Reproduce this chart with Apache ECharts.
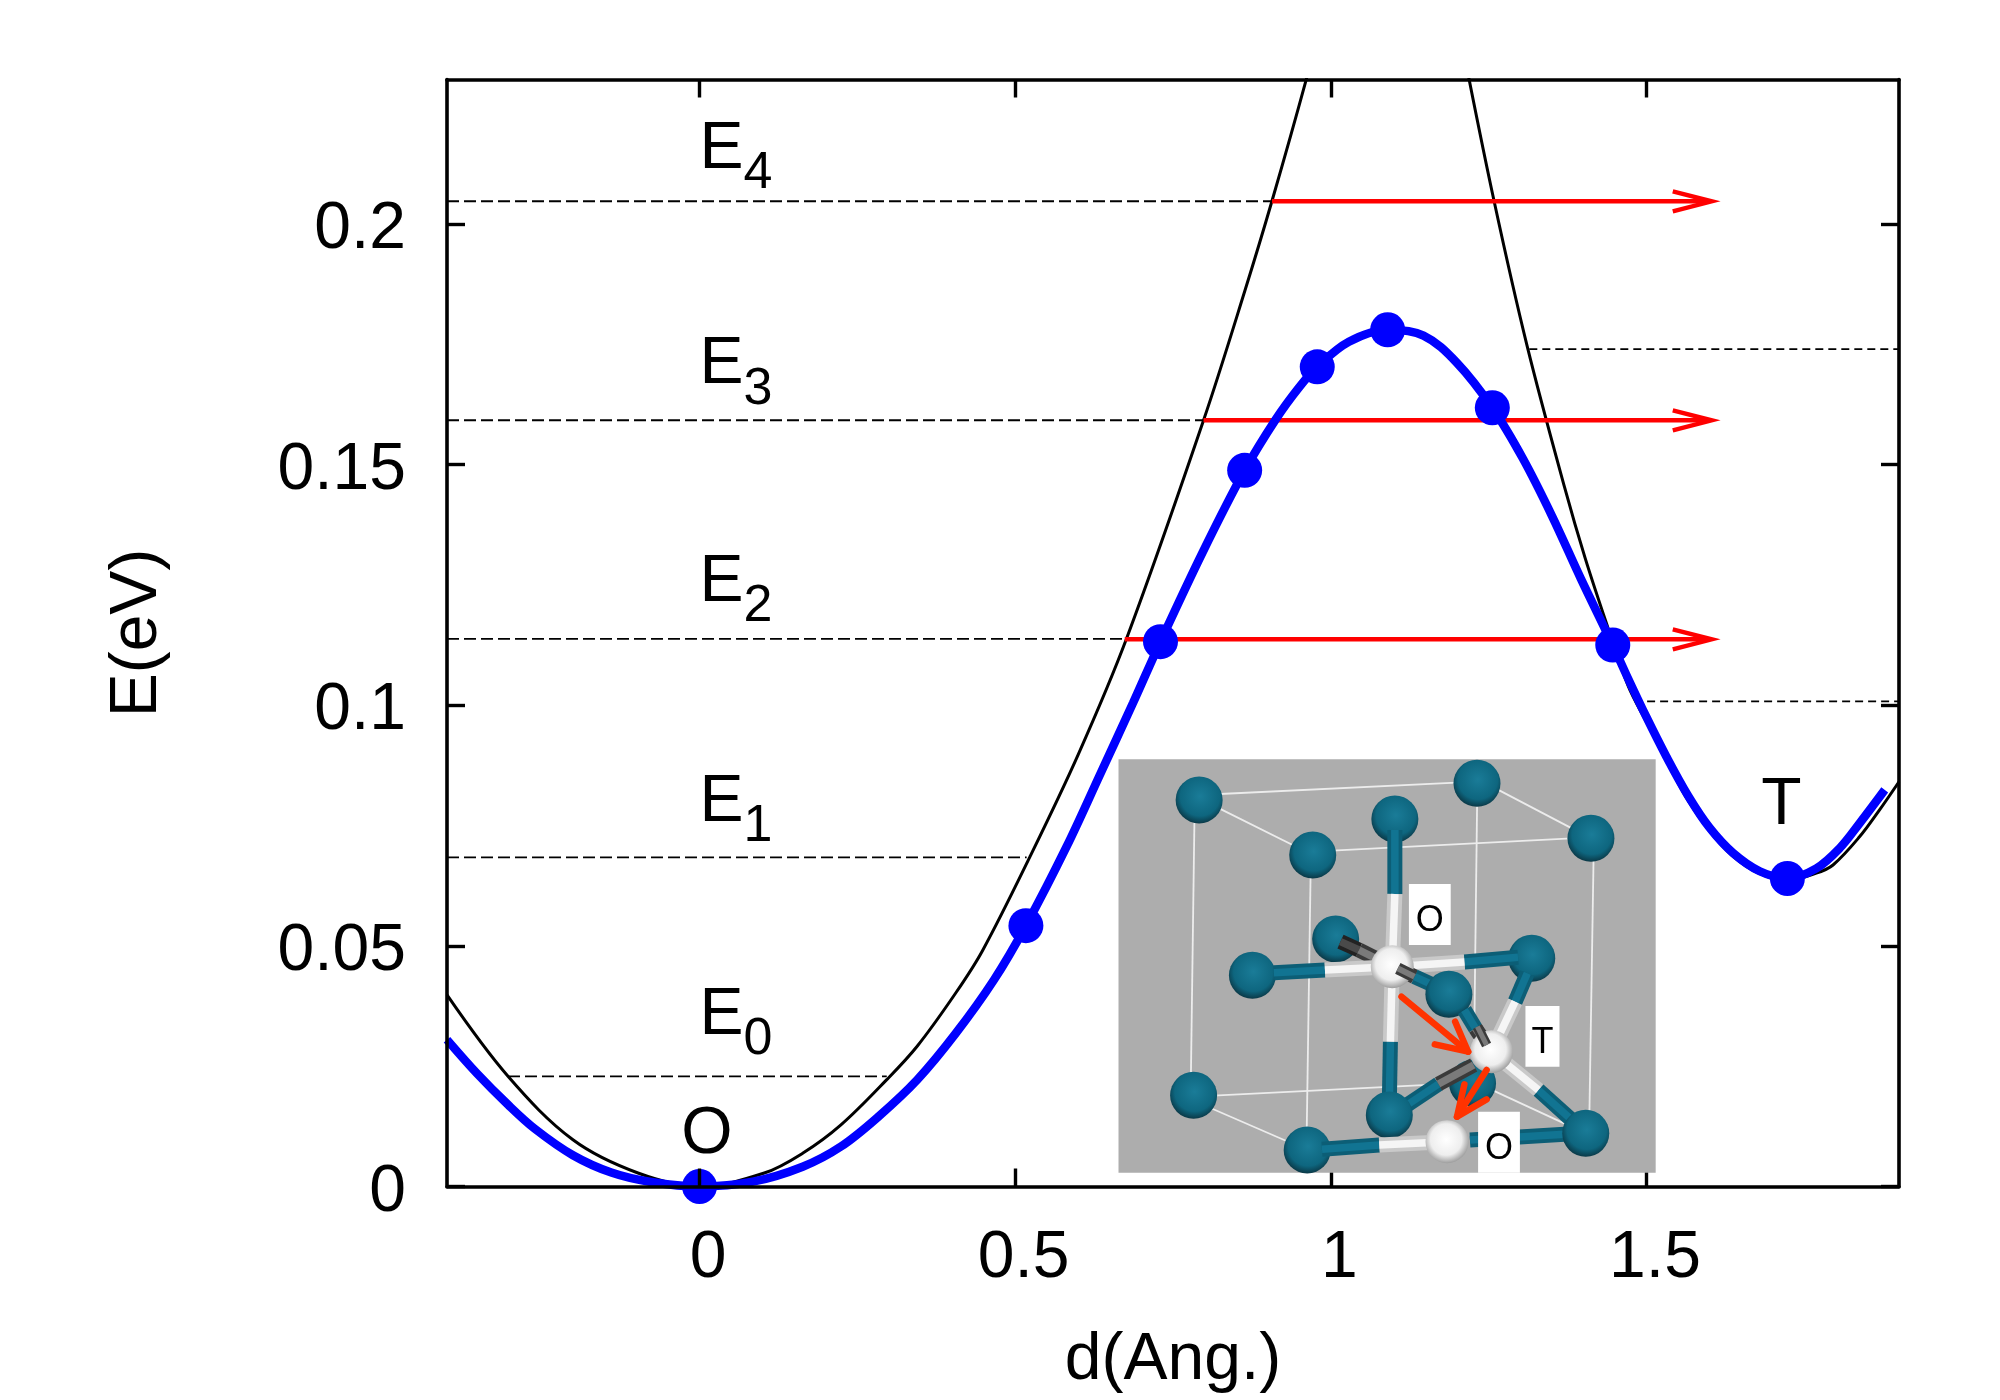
<!DOCTYPE html>
<html>
<head>
<meta charset="utf-8">
<script src="https://cdn.jsdelivr.net/npm/echarts@6/dist/echarts.min.js"></script>
<style>
html,body{margin:0;padding:0;background:#fff;}
#main{width:2000px;height:1400px;}
</style>
</head>
<body>
<div id="main"></div>
<script>
var xTicks = [0, 0.5, 1, 1.5];
var yTicks = [0, 0.05, 0.1, 0.15, 0.2];

var blueX = [-0.4,-0.3519,-0.3034,-0.261,-0.2005,-0.1397,-0.0792,0,0.0846,0.1633,0.224,0.2841,0.3451,0.4058,0.4663,0.517,0.5814,0.6341,0.6868,0.7302,0.7971,0.8635,0.9133,0.9494,0.9785,1.0286,1.09,1.1468,1.1992,1.2558,1.304,1.3504,1.396,1.4466,1.471,1.5,1.5316,1.5659,1.6002,1.6371,1.6794,1.7232,1.7691,1.8061,1.8378,1.8774];
var blueY = [0.0305,0.0234,0.017,0.012,0.0065,0.0029,0.001,0,0.001,0.0041,0.0083,0.0146,0.0222,0.0318,0.0429,0.0542,0.0706,0.0855,0.1005,0.1132,0.1318,0.1488,0.1595,0.166,0.1703,0.1755,0.178,0.1768,0.1712,0.1618,0.1513,0.1393,0.1263,0.1125,0.1055,0.0975,0.0893,0.0812,0.0745,0.0693,0.0655,0.064,0.0661,0.0703,0.0755,0.0824];

var blackX = [-0.4,-0.3034,-0.2005,-0.0975,0,0.1026,0.1633,0.224,0.2966,0.3451,0.4058,0.4482,0.5233,0.6,0.676,0.7984,0.8641,0.9069,0.9607,0.98];
var blackY = [0.0398,0.0229,0.0097,0.0028,0,0.0028,0.0069,0.0128,0.0222,0.0292,0.0402,0.049,0.0685,0.0898,0.1137,0.1592,0.1862,0.2048,0.2298,0.24];
var blackRightX = [1.21,1.2585,1.311,1.3702,1.403,1.4392,1.471,1.5,1.5316,1.5659,1.6002,1.6371,1.6794,1.7232,1.7691,1.7955,1.8378,1.8695,1.9];
var blackRightY = [0.236,0.2048,0.1746,0.1453,0.1305,0.116,0.104,0.0965,0.0885,0.0802,0.0738,0.0686,0.065,0.0636,0.0651,0.0668,0.0727,0.0783,0.0841];

var pointX = [0,0.517,0.7302,0.8635,0.9785,1.09,1.2558,1.4466,1.7232];
var pointY = [0,0.0542,0.1132,0.1488,0.1703,0.178,0.1618,0.1125,0.064];

var levelY = [0.0229,0.0684,0.1138,0.1592,0.2047];
var levelStart = [-0.3034,-0.4,-0.4,-0.4,-0.4];
var levelEnd = [0.2966,0.5182,0.6736,0.7984,0.9069];
var levelLabelY = [0.0319,0.0762,0.1219,0.1671,0.2119];
var levelLabelX = 0;

var rightLevelY = [0.1008,0.174];
var rightLevelStart = [1.501,1.3144];

var arrowY = [0.1137,0.1592,0.2047];
var arrowStart = [0.6736,0.7984,0.9069];
var arrowTip = 1.6145;

var siteLabels = ['O','T'];
var siteLabelX = [0.0117,1.7138];
var siteLabelY = [0.0073,0.0756];

function zip(a, b) {
	var out = [];
	for (var i = 0; i < a.length; i++) {
		out.push([a[i], b[i]]);
	}
	return out;
}

var font = '"Liberation Sans", Arial, sans-serif';
var series = [];

function blackLine(x, y) {
	series.push({
		type: 'line', data: zip(x, y), smooth: 0.35, showSymbol: false, silent: true, z: 2,
		lineStyle: {color: '#000', width: 3}
	});
}
blackLine(blackX, blackY);
blackLine(blackRightX, blackRightY);

function dashedLine(x0, x1, y, width, dash) {
	series.push({
		type: 'line', data: [[x0, y], [x1, y]], showSymbol: false, silent: true, z: 2,
		lineStyle: {color: '#000', width: width, type: dash}
	});
}
for (var i = 0; i < levelY.length; i++) {
	dashedLine(levelStart[i], levelEnd[i], levelY[i], 1.8, [12, 5]);
}
for (var i = 0; i < rightLevelY.length; i++) {
	dashedLine(rightLevelStart[i], 1.9, rightLevelY[i], 1.8, [8, 5]);
}

// red arrows, head is fixed in pixels
series.push({
	type: 'custom', silent: true, z: 3, clip: false,
	data: zip(arrowStart, arrowY),
	renderItem: function (params, api) {
		var a = api.coord([api.value(0), api.value(1)]);
		var b = api.coord([arrowTip, api.value(1)]);
		var red = {stroke: '#ff0000', fill: null, lineWidth: 4.4};
		return {type: 'group', children: [
			{type: 'line', shape: {x1: a[0], y1: a[1], x2: b[0] - 10, y2: b[1]}, style: red},
			{type: 'polyline', shape: {points: [[b[0] - 46, b[1] - 10], [b[0] - 7, b[1]], [b[0] - 46, b[1] + 10]]}, style: red}
		]};
	}
});

series.push({
	type: 'line', data: zip(blueX, blueY), smooth: 0.35, showSymbol: false, silent: true, z: 4,
	lineStyle: {color: '#0000ff', width: 8.5}
});
series.push({
	type: 'scatter', data: zip(pointX, pointY), symbol: 'circle', symbolSize: 35, silent: true, z: 5, clip: false,
	itemStyle: {color: '#0000ff', opacity: 1}
});

// E0..E4 with subscript, text is top aligned so shift up to the baseline
series.push({
	type: 'custom', silent: true, z: 6, clip: false,
	data: levelLabelY.map(function (y, i) { return [levelLabelX, y, i]; }),
	renderItem: function (params, api) {
		var p = api.coord([api.value(0), api.value(1)]);
		return {type: 'group', children: [
			{type: 'text', style: {text: 'E', x: p[0], y: p[1] - 50, font: '66px ' + font, textAlign: 'left', textBaseline: 'top', fill: '#000'}},
			{type: 'text', style: {text: String(api.value(2)), x: p[0] + 44, y: p[1] - 19, font: '52px ' + font, textAlign: 'left', textBaseline: 'top', fill: '#000'}}
		]};
	}
});
series.push({
	type: 'custom', silent: true, z: 6, clip: false,
	data: zip(siteLabelX, siteLabelY),
	renderItem: function (params, api) {
		var p = api.coord([api.value(0), api.value(1)]);
		return {type: 'text', style: {text: siteLabels[params.dataIndex], x: p[0], y: p[1] - 50, font: '66px ' + font, textAlign: 'center', textBaseline: 'top', fill: '#000'}};
	}
});

// inset picture, drawn in reference crop units
function ix(x) { return 1100 + x / 2.703; }
function iy(y) { return 750 + y / 3; }
var inset = [];
var iz = 20;
function ballFill(kind) {
	if (kind === 'w') {
		return {type: 'radial', x: 0.48, y: 0.45, r: 0.56, colorStops: [{offset: 0, color: '#ffffff'}, {offset: 0.65, color: '#eeeeee'}, {offset: 1, color: '#9a9a9a'}]};
	}
	return {type: 'radial', x: 0.52, y: 0.42, r: 0.6, colorStops: [{offset: 0, color: '#1a7c98'}, {offset: 0.7, color: '#0e667f'}, {offset: 1, color: '#0a3340'}]};
}
function ball(x, y, kind) {
	inset.push({type: 'circle', z: iz, silent: true, shape: {cx: ix(x), cy: iy(y), r: kind === 'w' ? 21.5 : 23.5}, style: {fill: ballFill(kind)}});
}
function thin(x1, y1, x2, y2) {
	inset.push({type: 'line', z: iz, silent: true, shape: {x1: ix(x1), y1: iy(y1), x2: ix(x2), y2: iy(y2)}, style: {stroke: '#ececec', lineWidth: 1.8}});
}
function stick(x1, y1, x2, y2, c1, c2, w) {
	var shape = {x1: ix(x1), y1: iy(y1), x2: ix(x2), y2: iy(y2)};
	inset.push({type: 'line', z: iz, silent: true, shape: shape, style: {stroke: c1, lineWidth: w || 15}});
	inset.push({type: 'line', z: iz, silent: true, shape: shape, style: {stroke: c2, lineWidth: (w || 15) * 0.5}});
}
var teal = ['#0c5e76', '#117492'], white = ['#c9c9c9', '#f5f5f5'], dark = ['#3a3a3a', '#7a7a7a'];
function bond(x1, y1, xm, ym, x2, y2, col2) {
	stick(x1, y1, xm, ym, teal[0], teal[1]);
	stick(xm, ym, x2, y2, col2[0], col2[1]);
}
function redArrow(x1, y1, x2, y2, a1, b1, a2, b2) {
	var s = {stroke: '#ff3300', lineWidth: 6.5, fill: null, lineCap: 'round', lineJoin: 'round'};
	inset.push({type: 'line', z: iz, silent: true, shape: {x1: ix(x1), y1: iy(y1), x2: ix(x2), y2: iy(y2)}, style: s});
	inset.push({type: 'polyline', z: iz, silent: true, shape: {points: [[ix(a1), iy(b1)], [ix(x2), iy(y2)], [ix(a2), iy(b2)]]}, style: s});
}
function tag(x0, y0, x1, y1, s) {
	inset.push({type: 'rect', z: iz, silent: true, shape: {x: ix(x0), y: iy(y0), width: ix(x1) - ix(x0), height: iy(y1) - iy(y0)}, style: {fill: '#fff'}});
	inset.push({type: 'text', z: iz, silent: true, style: {text: s, x: (ix(x0) + ix(x1)) / 2, y: (iy(y0) + iy(y1)) / 2 - 11, font: '36px ' + font, textAlign: 'center', textBaseline: 'top', fill: '#000'}});
}

inset.push({type: 'rect', z: iz, silent: true, shape: {x: ix(50), y: iy(28), width: ix(1502) - ix(50), height: iy(1268) - iy(28)}, style: {fill: '#adadad'}});
thin(268, 135, 1019, 95); thin(295, 160, 575, 315); thin(575, 305, 1327, 262); thin(1060, 110, 1327, 265);
thin(256, 150, 245, 1036); thin(570, 315, 558, 1200); thin(1020, 100, 1010, 1000); thin(1335, 265, 1322, 1150);
thin(253, 1040, 1007, 998); thin(280, 1065, 560, 1200); thin(1040, 1010, 1313, 1150);
ball(268, 150); ball(1019, 100); ball(575, 315); ball(1327, 265);
ball(253, 1036); ball(1007, 1000); ball(797, 207);
ball(637, 567);
stick(650, 575, 700, 600, '#222222', '#4a4a4a');
stick(700, 600, 790, 650, dark[0], dark[1]);
ball(412, 676); ball(1167, 625);
bond(797, 240, 797, 432, 790, 650, white);
bond(470, 668, 608, 660, 790, 650, white);
bond(1130, 622, 985, 636, 790, 650, white);
bond(782, 1060, 785, 875, 790, 650, white);
stick(805, 655, 850, 680, dark[0], dark[1]);
stick(850, 680, 930, 720, teal[0], teal[1]);
ball(790, 650, 'w');
stick(805, 655, 850, 680, dark[0], dark[1], 12);
ball(943, 733);
bond(1155, 670, 1122, 755, 1058, 905, white);
bond(985, 780, 1015, 835, 1045, 885, dark);
bond(830, 1065, 915, 1002, 1010, 945, dark);
ball(782, 1095);
bond(1300, 1135, 1185, 1020, 1058, 905, white);
ball(1058, 905, 'w');
stick(1020, 830, 1045, 885, dark[0], dark[1], 10);
ball(560, 1200);
bond(600, 1198, 755, 1185, 938, 1175, white);
stick(1000, 1170, 1300, 1150, teal[0], teal[1]);
ball(938, 1175, 'w');
ball(1313, 1150);
redArrow(815, 740, 995, 905, 960, 815, 905, 883);
redArrow(1045, 960, 965, 1100, 985, 1003, 1045, 1048);
tag(835, 402, 948, 585, 'O');
tag(1150, 768, 1242, 950, 'T');
tag(1022, 1085, 1135, 1268, 'O');

var line = {show: true, onZero: false, lineStyle: {color: '#000', width: 3.6}};
var tick = function (vals) {
	return {show: true, inside: true, length: 18, customValues: vals, lineStyle: {color: '#000', width: 3.4}};
};

var myChart = echarts.init(document.getElementById('main'));
myChart.setOption({
	animation: false,
	backgroundColor: '#fff',
	grid: {left: 447, top: 79.5, width: 1452, height: 1107},
	xAxis: [{
		type: 'value', min: -0.4, max: 1.9, position: 'bottom', z: 10,
		axisLine: line, axisTick: tick(xTicks), splitLine: {show: false},
		axisLabel: {customValues: xTicks, margin: 39, padding: [0, 0, 0, 17], fontFamily: font, fontSize: 66, color: '#000', formatter: function (v) { return String(v); }},
		name: 'd(Ang.)', nameLocation: 'middle', nameGap: 141,
		nameTextStyle: {fontFamily: font, fontSize: 66, color: '#000'}
	}, {
		type: 'value', min: -0.4, max: 1.9, position: 'top', z: 10,
		axisLine: line, axisTick: tick(xTicks), axisLabel: {show: false}, splitLine: {show: false}
	}],
	yAxis: [{
		type: 'value', min: 0, max: 0.23, position: 'left', z: 10,
		axisLine: line, axisTick: tick(yTicks), splitLine: {show: false},
		axisLabel: {customValues: yTicks, margin: 41, verticalAlign: 'top', lineHeight: 12, fontFamily: font, fontSize: 66, color: '#000', formatter: function (v) { return String(v); }},
		name: 'E(eV)', nameLocation: 'middle', nameGap: 276, nameRotate: 90,
		nameTextStyle: {fontFamily: font, fontSize: 66, color: '#000'}
	}, {
		type: 'value', min: 0, max: 0.23, position: 'right', z: 10,
		axisLine: line, axisTick: tick(yTicks), axisLabel: {show: false}, splitLine: {show: false}
	}],
	series: series,
	graphic: {elements: inset}
});
</script>
</body>
</html>
